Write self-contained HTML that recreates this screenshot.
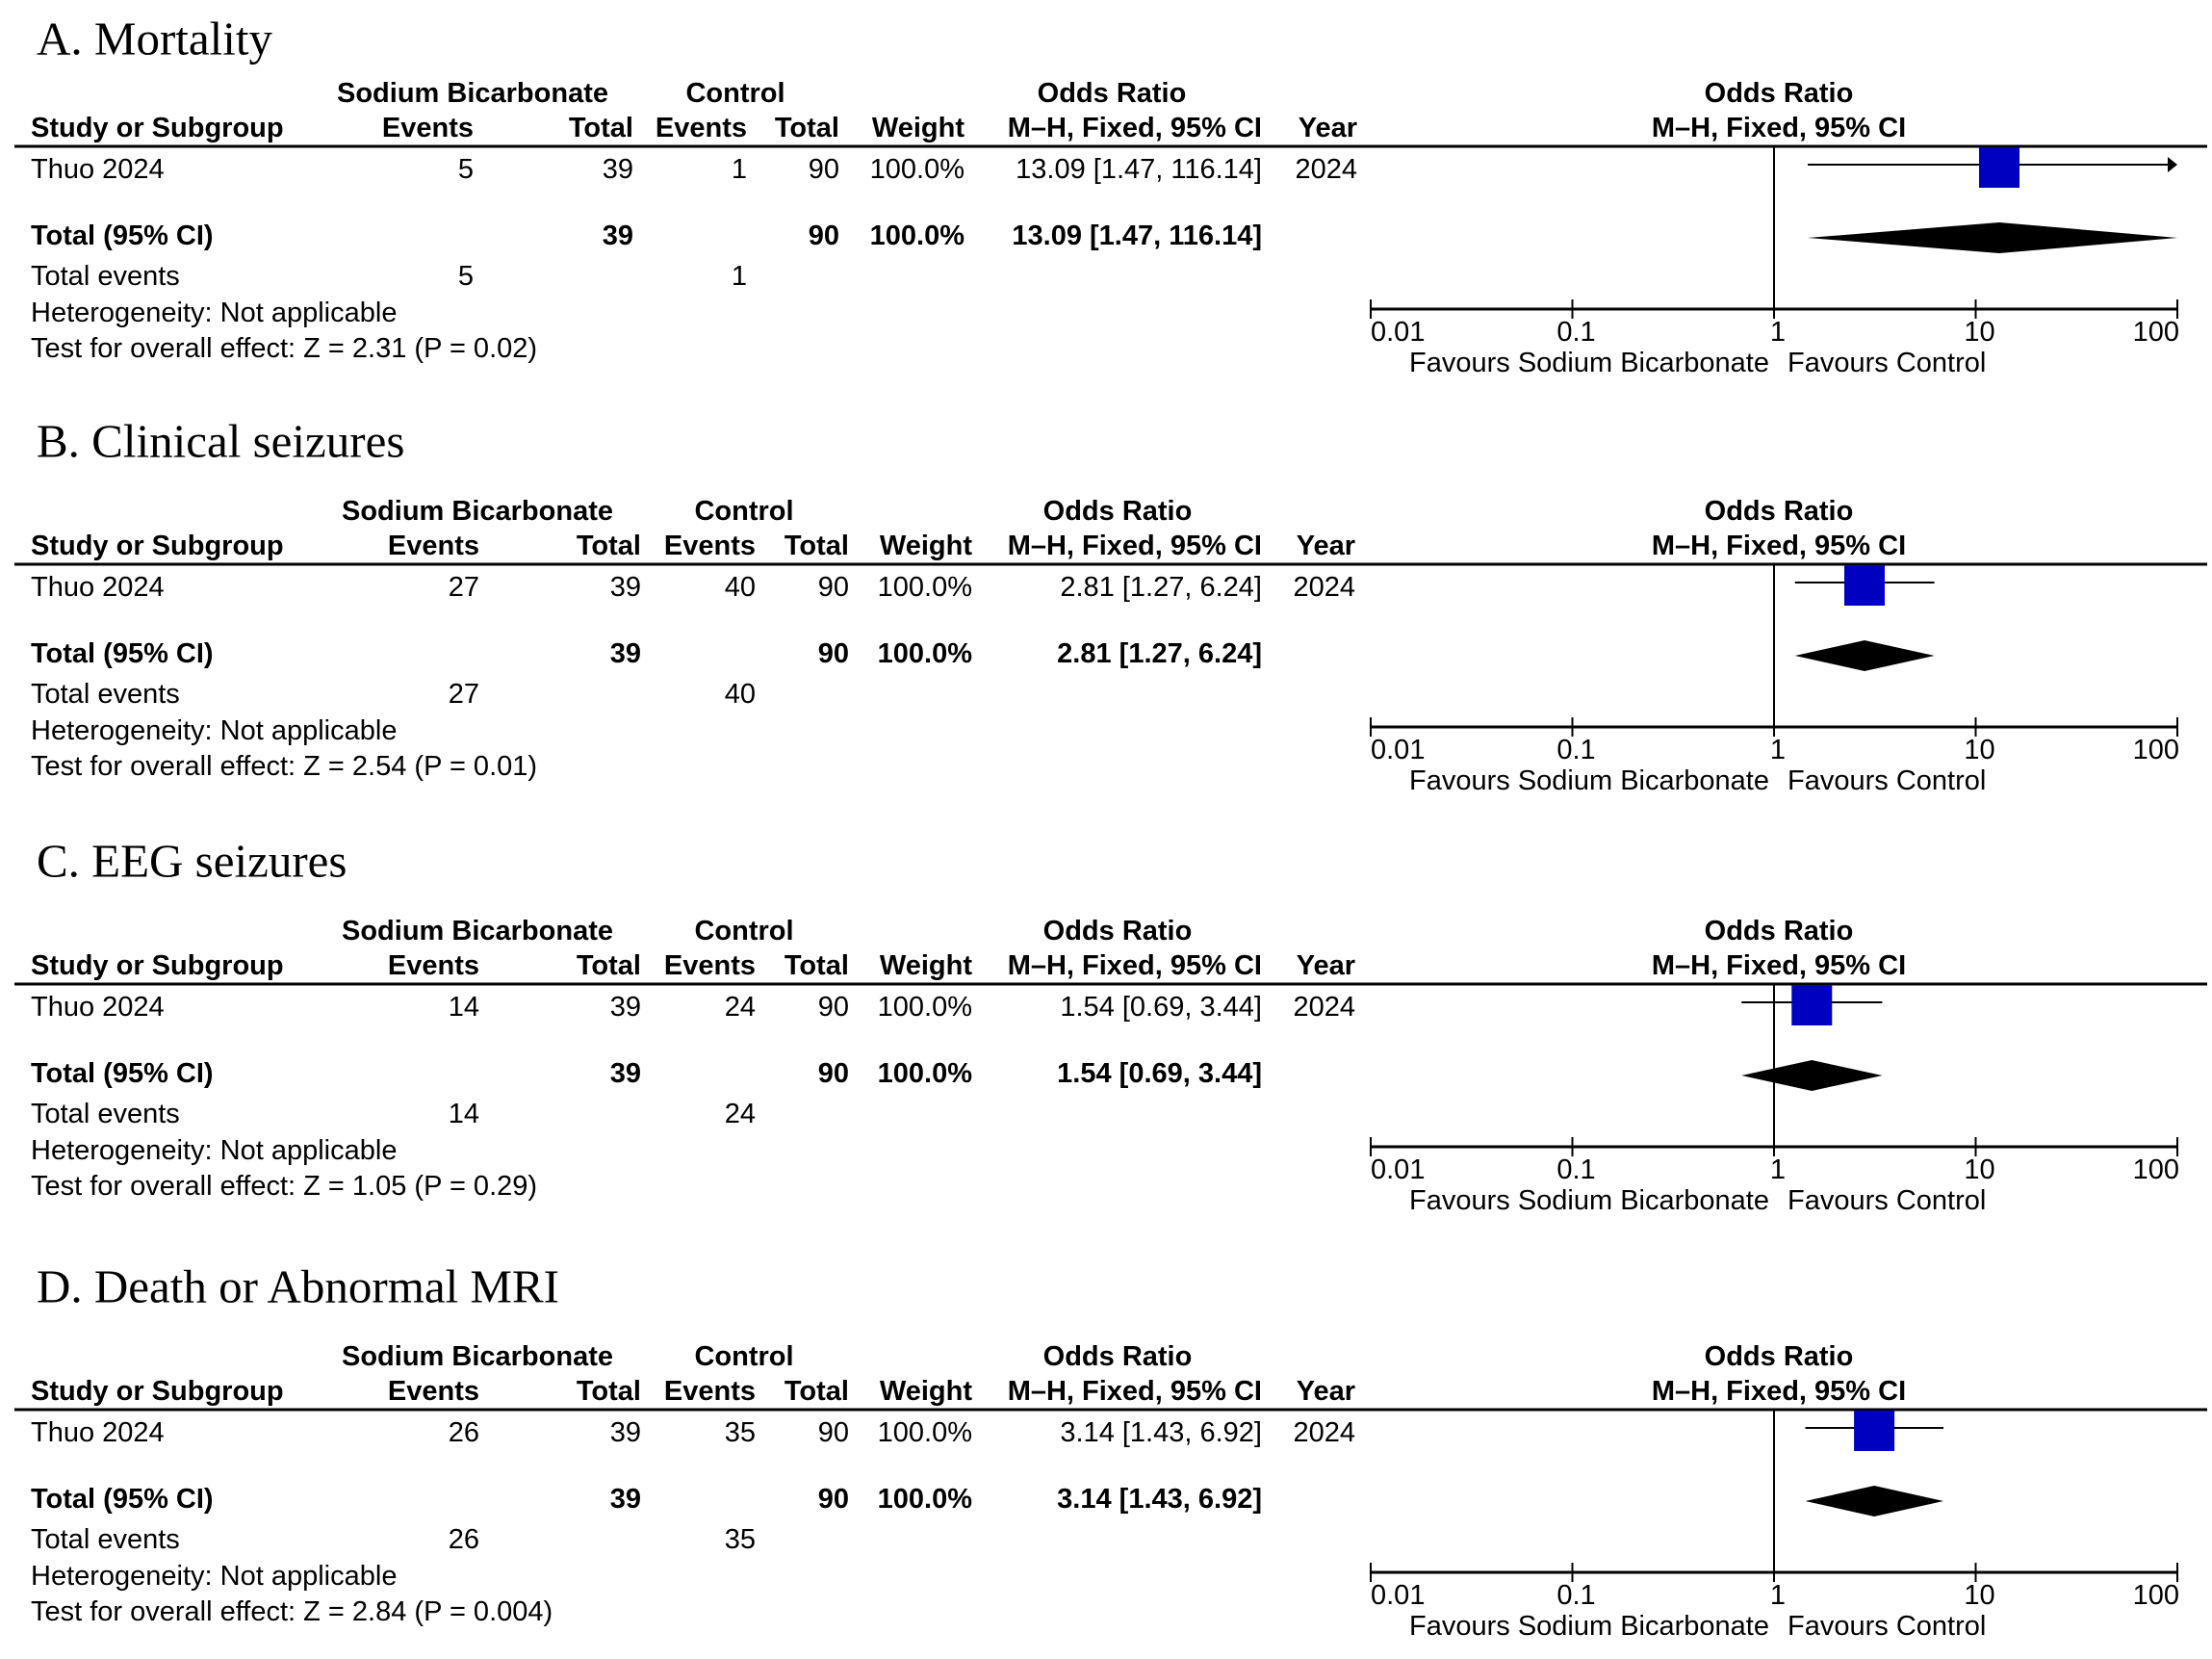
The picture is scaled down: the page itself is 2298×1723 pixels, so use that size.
<!DOCTYPE html>
<html><head><meta charset="utf-8"><style>
html,body{margin:0;padding:0;background:#fff;}
svg{display:block;font-family:"Liberation Sans",sans-serif;}
</style></head><body>
<svg id="chart" width="2298" height="1723" viewBox="0 0 2298 1723" xmlns="http://www.w3.org/2000/svg"></svg>
<script>
const panelTitles = ["A. Mortality","B. Clinical seizures","C. EEG seizures","D. Death or Abnormal MRI"];
const expEvents = [5,27,14,26];
const expTotals = [39,39,39,39];
const ctlEvents = [1,40,24,35];
const ctlTotals = [90,90,90,90];
const orValues = [13.09,2.81,1.54,3.14];
const ciLow = [1.47,1.27,0.69,1.43];
const ciHigh = [116.14,6.24,3.44,6.92];
const zValues = ["2.31","2.54","1.05","2.84"];
const pValues = ["0.02","0.01","0.29","0.004"];
const tickValues = [0.01,0.1,1,10,100];
const tickLabels = ["0.01","0.1","1","10","100"];

const NS="http://www.w3.org/2000/svg";
const svg=document.getElementById('chart');
const X0=1424,X1=2262;
const FS=29;
function xs(v){const l=Math.log10(Math.min(Math.max(v,0.01),100));return X0+(l+2)/4*(X1-X0);}
function el(tag,attrs,parent){const e=document.createElementNS(NS,tag);for(const k in attrs)e.setAttribute(k,attrs[k]);(parent||svg).appendChild(e);return e;}
function txt(s,x,y,anchor,bold,size,parent,family){const t=el('text',{x:x,y:y,'text-anchor':anchor||'start','dominant-baseline':'central','font-size':size||FS,'font-weight':bold?'bold':'normal'},parent);if(family)t.setAttribute('font-family',family);t.textContent=s;return t;}

const headerY=[152,586,1022,1464];
const titleOff=[112,128,128,128];
panelTitles.forEach((title,i)=>{
  const h=headerY[i];
  const g=el('g',{});
  
  
  const c = i===0 ? {ev:492,tot:658,cev:776,ctot:872,w:1002,or:1311,orc:1155,yr:1410,sb:491,ct:764}
                  : {ev:498,tot:666,cev:785,ctot:882,w:1010,or:1311,orc:1161,yr:1408,sb:496,ct:773};
  const tt=txt(title,38,h-titleOff[i],'start',false,49,g,'"Liberation Serif",serif');
  
  
  const r1=h-55,r2=h-19;
  txt('Sodium Bicarbonate',c.sb,r1,'middle',true,FS,g);
  txt('Control',c.ct,r1,'middle',true,FS,g);
  txt('Odds Ratio',c.orc,r1,'middle',true,FS,g);
  txt('Odds Ratio',1848,r1,'middle',true,FS,g);
  txt('Study or Subgroup',32,r2,'start',true,FS,g);
  txt('Events',c.ev,r2,'end',true,FS,g);
  txt('Total',c.tot,r2,'end',true,FS,g);
  txt('Events',c.cev,r2,'end',true,FS,g);
  txt('Total',c.ctot,r2,'end',true,FS,g);
  txt('Weight',c.w,r2,'end',true,FS,g);
  txt('M\u2013H, Fixed, 95% CI',c.or,r2,'end',true,FS,g);
  txt('Year',c.yr,r2,'end',true,FS,g);
  txt('M\u2013H, Fixed, 95% CI',1848,r2,'middle',true,FS,g);
  const hl=el('line',{x1:15,x2:2293,y1:h,y2:h,stroke:'#000','stroke-width':3},g);
  
  
  const sy=h+24;
  const orStr=orValues[i].toFixed(2)+' ['+ciLow[i].toFixed(2)+', '+ciHigh[i].toFixed(2)+']';
  txt('Thuo 2024',32,sy,'start',false,FS,g);
  txt(String(expEvents[i]),c.ev,sy,'end',false,FS,g);
  txt(String(expTotals[i]),c.tot,sy,'end',false,FS,g);
  txt(String(ctlEvents[i]),c.cev,sy,'end',false,FS,g);
  txt(String(ctlTotals[i]),c.ctot,sy,'end',false,FS,g);
  txt('100.0%',c.w,sy,'end',false,FS,g);
  txt(orStr,c.or,sy,'end',false,FS,g);
  txt('2024',c.yr,sy,'end',false,FS,g);
  const ty=h+93;
  txt('Total (95% CI)',32,ty,'start',true,FS,g);
  txt(String(expTotals[i]),c.tot,ty,'end',true,FS,g);
  txt(String(ctlTotals[i]),c.ctot,ty,'end',true,FS,g);
  txt('100.0%',c.w,ty,'end',true,FS,g);
  txt(orStr,c.or,ty,'end',true,FS,g);
  txt('Total events',32,h+135,'start',false,FS,g);
  txt(String(expEvents[i]),c.ev,h+135,'end',false,FS,g);
  txt(String(ctlEvents[i]),c.cev,h+135,'end',false,FS,g);
  txt('Heterogeneity: Not applicable',32,h+173,'start',false,FS,g);
  txt('Test for overall effect: Z = '+zValues[i]+' (P = '+pValues[i]+')',32,h+210,'start',false,FS,g);
  const ay=h+169;
  const vl=el('line',{x1:xs(1),x2:xs(1),y1:h,y2:ay,stroke:'#000','stroke-width':2},g);
  
  
  const ax=el('line',{x1:X0,x2:X1,y1:ay,y2:ay,stroke:'#000','stroke-width':3},g);
  
  
  tickValues.forEach((v,k)=>{
    const tk=el('line',{x1:xs(v),x2:xs(v),y1:ay-10,y2:ay+10,stroke:'#000','stroke-width':2},g);
    
    
    const anchor=k===0?'start':(k===tickLabels.length-1?'end':'middle');
    const lx=k===0?xs(v):(k===tickLabels.length-1?xs(v)+2:xs(v)+4);
    txt(tickLabels[k],lx,ay+24,anchor,false,FS,g);
  });
  txt('Favours Sodium Bicarbonate',1838,ay+56,'end',false,FS,g);
  txt('Favours Control',1857,ay+56,'start',false,FS,g);
  const cy=h+19;
  const lo=xs(ciLow[i]),hi=xs(ciHigh[i]);
  const ci=el('line',{x1:lo,x2:hi-(ciHigh[i]>100?8:0),y1:cy,y2:cy,stroke:'#000','stroke-width':2},g);
  
  
  if(ciHigh[i]>100){
    const ar=el('polygon',{points:(X1-10)+','+(cy-8)+' '+X1+','+cy+' '+(X1-10)+','+(cy+8),fill:'#000'},g);
    
    
  }
  const sq=el('rect',{x:xs(orValues[i])-21,y:h+1,width:42,height:42,fill:'#0000c0'},g);
  
  
  const dy=h+95;
  const dm=el('polygon',{points:[xs(ciLow[i])+','+dy,xs(orValues[i])+','+(dy-16),xs(ciHigh[i])+','+dy,xs(orValues[i])+','+(dy+16)].join(' '),fill:'#000'},g);
  
  
});
</script>
</body></html>
